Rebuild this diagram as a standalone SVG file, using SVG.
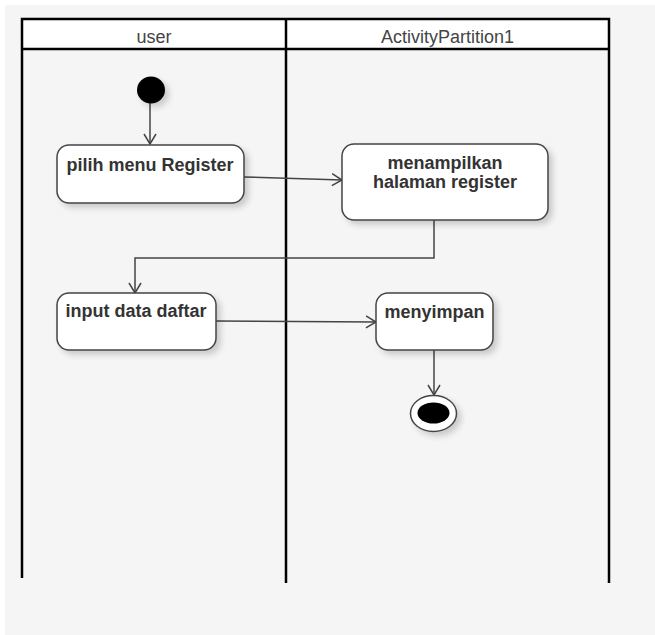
<svg xmlns="http://www.w3.org/2000/svg" width="655" height="635" viewBox="0 0 655 635">
  <defs>
    <style>
      .lane { stroke: #000; stroke-width: 2.5; fill: none; }
      .head { font-family: "Liberation Sans", Arial, sans-serif; font-size: 18px; fill: #444; text-anchor: middle; }
      .act { fill: #fff; stroke: #444; stroke-width: 1.5; filter: url(#shadow); }
      .label { font-family: "Liberation Sans", Arial, sans-serif; font-size: 18px; font-weight: bold; fill: #333; text-anchor: middle; }
      .flow { stroke: #444; stroke-width: 1.5; fill: none; marker-end: url(#open); }
    </style>
    <filter id="shadow" x="-20%" y="-20%" width="150%" height="160%">
      <feGaussianBlur in="SourceAlpha" stdDeviation="3"/>
      <feOffset dx="4" dy="4" result="b"/>
      <feComponentTransfer><feFuncA type="linear" slope="0.18"/></feComponentTransfer>
      <feMerge><feMergeNode/><feMergeNode in="SourceGraphic"/></feMerge>
    </filter>
    <marker id="open" viewBox="0 0 12 14" refX="11" refY="7" markerWidth="12" markerHeight="14" markerUnits="userSpaceOnUse" orient="auto">
      <path d="M1,1 L11,7 L1,13" fill="none" stroke="#444" stroke-width="1.5"/>
    </marker>
  </defs>

  <!-- canvas -->
  <rect x="0" y="0" width="655" height="635" fill="#fff"/>
  <rect x="5" y="5" width="650" height="630" fill="#f5f5f5"/>

  <!-- swimlanes -->
  <g id="swimlanes">
    <rect x="22" y="19" width="587" height="30" fill="#fff"/>
    <path class="lane" d="M22,578 V19 H609 V583 M286,19 V583 M22,49 H609"/>
    <text class="head" x="154" y="43">user</text>
    <text class="head" x="447.5" y="43">ActivityPartition1</text>
  </g>

  <!-- connectors -->
  <g id="connectors">
    <path class="flow" d="M150,103 V144"/>
    <path class="flow" d="M244,177 L342,180"/>
    <path class="flow" d="M434,220 V258 H135 V293"/>
    <path class="flow" d="M216,321 L376,322"/>
    <path class="flow" d="M434,350 V395"/>
  </g>

  <g id="start">
    <ellipse cx="151" cy="90" rx="14" ry="13.5" fill="#000" filter="url(#shadow)"/>
  </g>

  <g id="pilih-menu-register">
    <rect class="act" x="57" y="145" width="187" height="58" rx="12"/>
    <text class="label" x="150" y="171">pilih menu Register</text>
  </g>

  <g id="menampilkan-halaman-register">
    <rect class="act" x="342" y="144" width="206" height="76" rx="12"/>
    <text class="label" x="445" y="169">menampilkan</text>
    <text class="label" x="445" y="188">halaman register</text>
  </g>

  <g id="input-data-daftar">
    <rect class="act" x="57" y="293" width="159" height="57" rx="12"/>
    <text class="label" x="136" y="317">input data daftar</text>
  </g>

  <g id="menyimpan">
    <rect class="act" x="376" y="293" width="117" height="57" rx="12"/>
    <text class="label" x="434.5" y="318">menyimpan</text>
  </g>

  <g id="end">
    <ellipse cx="433.5" cy="413.5" rx="23" ry="18" fill="#fff" stroke="#444" stroke-width="1.5" filter="url(#shadow)"/>
    <ellipse cx="433.5" cy="413" rx="16" ry="10.5" fill="#000"/>
  </g>
</svg>
